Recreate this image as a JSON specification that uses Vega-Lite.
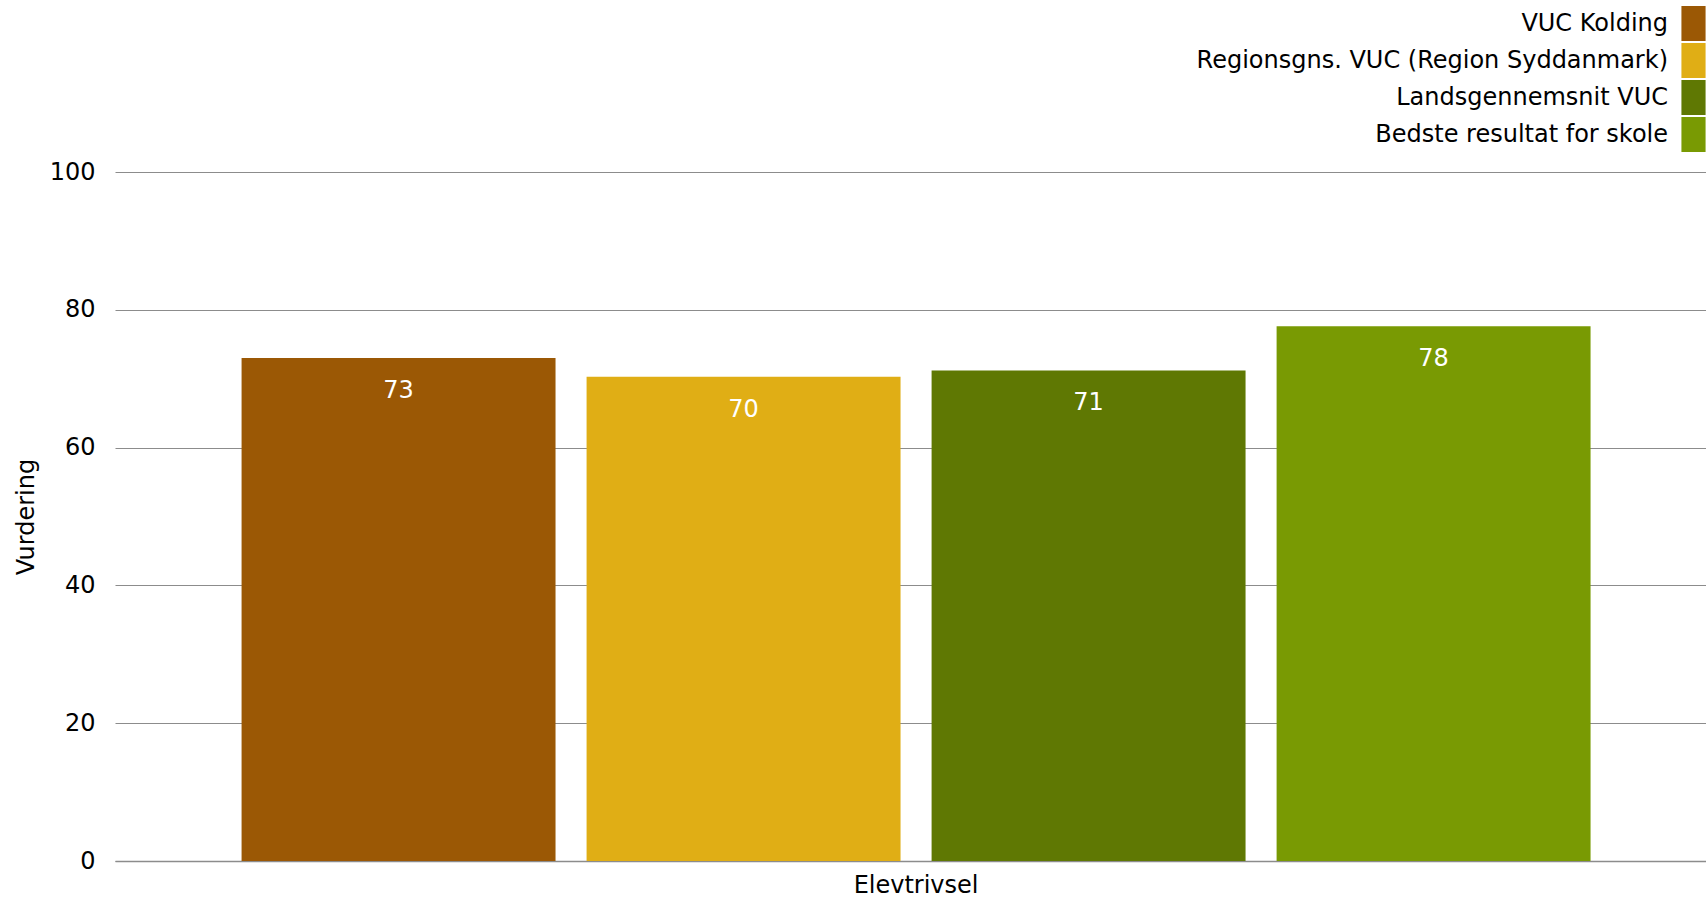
{
  "$schema": "https://vega.github.io/schema/vega-lite/v6.json",
  "width": 1591,
  "height": 689,
  "autosize": "none",
  "padding": {"left": 115, "top": 172, "right": 0, "bottom": 41},
  "background": "white",
  "config": {
    "font": "DejaVu Sans",
    "view": {"stroke": null}
  },
  "data": {
    "values": [
      {"kategori": "Elevtrivsel", "serie": "VUC Kolding", "vurdering": 73.0},
      {"kategori": "Elevtrivsel", "serie": "Regionsgns. VUC (Region Syddanmark)", "vurdering": 70.3},
      {"kategori": "Elevtrivsel", "serie": "Landsgennemsnit VUC", "vurdering": 71.2},
      {"kategori": "Elevtrivsel", "serie": "Bedste resultat for skole", "vurdering": 77.6}
    ]
  },
  "encoding": {
    "x": {
      "field": "kategori",
      "type": "nominal",
      "scale": {"paddingInner": 0, "paddingOuter": 0.0897, "align": 0.523},
      "axis": {
        "title": null,
        "labelAngle": 0,
        "labelFontSize": 24,
        "labelColor": "black",
        "labelPadding": 12,
        "ticks": false,
        "domain": true,
        "domainColor": "#8c8c8c",
        "domainWidth": 1.5,
        "grid": false
      }
    },
    "xOffset": {
      "field": "serie",
      "type": "nominal",
      "sort": ["VUC Kolding", "Regionsgns. VUC (Region Syddanmark)", "Landsgennemsnit VUC", "Bedste resultat for skole"],
      "scale": {"paddingInner": 0.09, "paddingOuter": 0}
    },
    "y": {
      "field": "vurdering",
      "type": "quantitative",
      "scale": {"domain": [0, 100]},
      "axis": {
        "title": "Vurdering",
        "titleFontSize": 24,
        "titleFontWeight": "normal",
        "titleColor": "black",
        "titlePadding": 11,
        "values": [0, 20, 40, 60, 80, 100],
        "labelFontSize": 24,
        "labelColor": "black",
        "labelPadding": 20,
        "ticks": false,
        "domain": false,
        "grid": true,
        "gridColor": "#8c8c8c",
        "gridWidth": 1.2
      }
    }
  },
  "layer": [
    {
      "mark": {"type": "bar"},
      "encoding": {
        "color": {
          "field": "serie",
          "type": "nominal",
          "scale": {
            "domain": ["VUC Kolding", "Regionsgns. VUC (Region Syddanmark)", "Landsgennemsnit VUC", "Bedste resultat for skole"],
            "range": ["#9b5805", "#e0ae15", "#5f7803", "#799a03"]
          },
          "legend": {
            "title": null,
            "orient": "none",
            "legendX": 1561,
            "legendY": -166,
            "padding": 0,
            "symbolType": "M-0.69,-1H0.69V1H-0.69Z",
            "symbolSize": 1225,
            "symbolStrokeWidth": 0,
            "symbolOpacity": 1,
            "rowPadding": 2,
            "labelAlign": "right",
            "labelOffset": -43,
            "labelFontSize": 24,
            "labelColor": "black",
            "labelLimit": 0
          }
        }
      }
    },
    {
      "mark": {"type": "text", "color": "white", "fontSize": 24, "baseline": "middle", "dy": 33},
      "encoding": {
        "text": {"field": "vurdering", "type": "quantitative", "format": ".0f"}
      }
    }
  ]
}
